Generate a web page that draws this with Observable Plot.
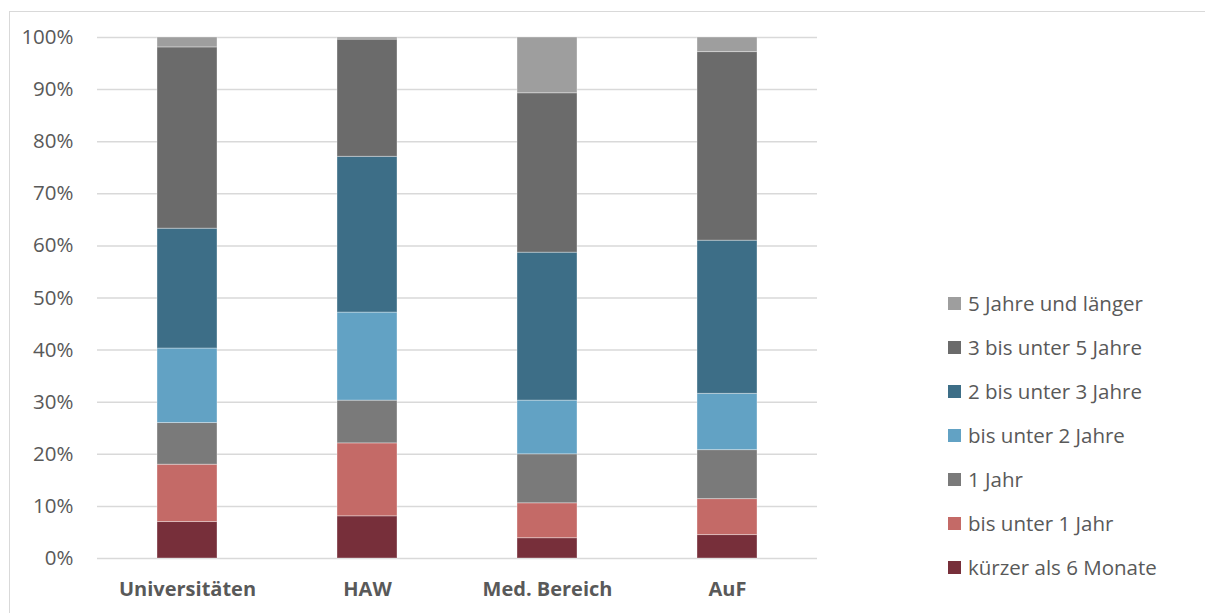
<!DOCTYPE html>
<html lang="de">
<head>
<meta charset="utf-8">
<script src="https://cdn.jsdelivr.net/npm/d3@7"></script>
<script src="https://cdn.jsdelivr.net/npm/@observablehq/plot@0.6"></script>
<style>
  html, body { margin: 0; padding: 0; background: #fff; }
  #wrap { position: relative; width: 1205px; height: 613px; overflow: hidden; font-family: "Open Sans", Lato, sans-serif; }
  #frame { position: absolute; left: 9px; top: 11px; width: 1300px; height: 700px; border: 1.5px solid #d9d9d9; box-sizing: border-box; }
  #chart { position: absolute; left: 0; top: 0; }
  #legend { position: absolute; left: 948px; top: 0; }
  .item { position: absolute; left: 0; display: flex; align-items: center; white-space: nowrap; color: #595959; font-size: 20.5px; }
  .sw { width: 13px; height: 13px; margin-right: 7px; flex: none; }
</style>
</head>
<body>
<div id="wrap">
  <div id="frame"></div>
  <div id="chart"></div>
  <div id="legend"></div>
</div>
<script>
// Institution types along the x axis
const categories = ["Universitäten", "HAW", "Med. Bereich", "AuF"];

// Contract-duration classes, stacked from the bottom up
const series = [
  "kürzer als 6 Monate",
  "bis unter 1 Jahr",
  "1 Jahr",
  "bis unter 2 Jahre",
  "2 bis unter 3 Jahre",
  "3 bis unter 5 Jahre",
  "5 Jahre und länger"
];
const seriesColors = ["#772f3a", "#c46a67", "#7a7a7a", "#62a2c4", "#3d6e87", "#6b6b6b", "#9e9e9e"];

// Shares in percent, one value per category (same order as categories)
const kuerzer6Monate   = [7.0,  8.1,  3.9,  4.5];
const bisUnter1Jahr    = [11.0, 14.0, 6.7,  6.9];
const einJahr          = [8.0,  8.2,  9.4,  9.4];
const bisUnter2Jahre   = [14.3, 16.9, 10.3, 10.8];
const zweiBis3Jahre    = [23.0, 29.9, 28.4, 29.4];
const dreiBis5Jahre    = [34.8, 22.5, 30.6, 36.2];
const fuenfJahrePlus   = [1.9,  0.4,  10.7, 2.8];

const yTicks = [0, 10, 20, 30, 40, 50, 60, 70, 80, 90, 100];

const seriesValues = [kuerzer6Monate, bisUnter1Jahr, einJahr, bisUnter2Jahre, zweiBis3Jahre, dreiBis5Jahre, fuenfJahrePlus];

const rows = [];
series.forEach((s, si) => {
  categories.forEach((c, ci) => rows.push({category: c, series: s, value: seriesValues[si][ci]}));
});

const textColor = "#595959";

const chart = Plot.plot({
  width: 1205,
  height: 613,
  marginLeft: 97,
  marginRight: 388,
  marginTop: 37,
  marginBottom: 55,
  style: {fontFamily: "'Open Sans', Lato, sans-serif", fontSize: "18px", color: textColor, background: "transparent"},
  x: {domain: categories, paddingInner: 0.667, paddingOuter: 0.333, label: null},
  y: {domain: [0, 100], label: null},
  color: {domain: series, range: seriesColors},
  marks: [
    Plot.ruleY(yTicks, {stroke: "#d9d9d9", strokeWidth: 1.5}),
    Plot.barY(rows, {
      x: "category",
      y: "value",
      fill: "series",
      order: series,
      stroke: "#ffffff",
      strokeOpacity: 0.35,
      strokeWidth: 1
    }),
    Plot.axisY(yTicks, {
      tickSize: 0,
      tickPadding: 24,
      tickFormat: d => d + "%",
      fill: textColor,
      fontSize: 20.5,
      label: null
    }),
    Plot.axisX({
      tickSize: 0,
      tickPadding: 23,
      fill: textColor,
      fontSize: 20,
      fontWeight: "bold",
      label: null
    })
  ]
});
document.getElementById("chart").appendChild(chart);

// Legend: top series first
const legend = document.getElementById("legend");
const legendOrder = series.map((s, i) => i).reverse();
legendOrder.forEach((si, row) => {
  const item = document.createElement("div");
  item.className = "item";
  const cy = 303 + row * 44;
  item.style.top = (cy - 14) + "px";
  item.style.height = "28px";
  const sw = document.createElement("span");
  sw.className = "sw";
  sw.style.background = seriesColors[si];
  const label = document.createElement("span");
  label.textContent = series[si];
  item.appendChild(sw);
  item.appendChild(label);
  legend.appendChild(item);
});
</script>
</body>
</html>
